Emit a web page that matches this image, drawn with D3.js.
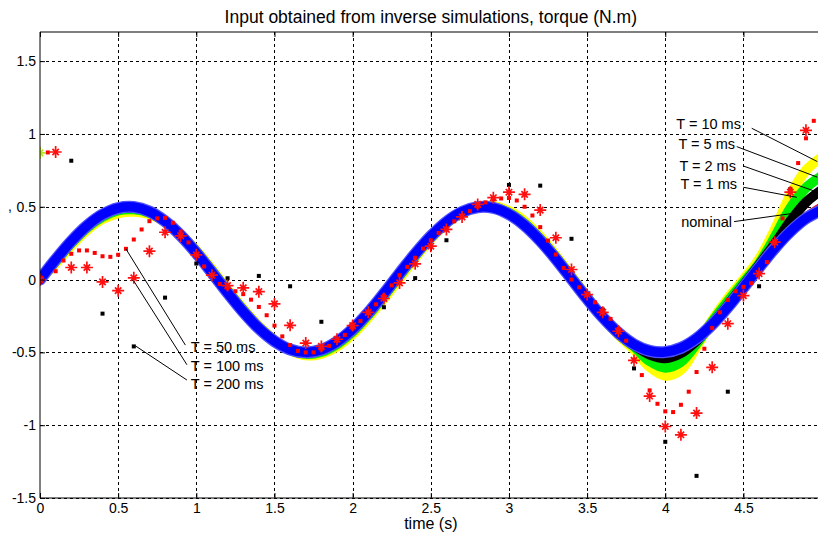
<!DOCTYPE html>
<html>
<head>
<meta charset="utf-8">
<script src="https://cdn.jsdelivr.net/npm/d3@7/dist/d3.min.js"></script>
<style>
  body { margin: 0; background: #fff; }
  svg { display: block; font-family: "Liberation Sans", Arial, Helvetica, sans-serif; }
</style>
</head>
<body>
<div id="container"></div>
<script>
// time grid of the continuous (small step) inverse simulations
const timeGrid = [0,0.1,0.2,0.3,0.4,0.5,0.6,0.7,0.8,0.9,1.0,1.1,1.2,1.3,1.4,1.5,1.6,1.7,1.8,1.9,2.0,
  2.1,2.2,2.3,2.4,2.5,2.6,2.7,2.8,2.9,3.0,3.1,3.2,3.3,3.4,3.5,3.6,3.7,3.8,3.9,4.0,
  4.1,4.2,4.3,4.4,4.5,4.6,4.7,4.8,4.9,5.0];

// torque for each sampling period
const nominal = [0,0.137,0.263,0.369,0.447,0.491,0.498,0.467,0.400,0.303,0.183,0.048,-0.090,-0.221,-0.335,-0.423,-0.480,-0.500,-0.482,-0.427,-0.340,
  -0.227,-0.096,0.042,0.176,0.297,0.396,0.465,0.497,0.492,0.449,0.372,0.267,0.142,0.005,-0.132,-0.259,-0.366,-0.445,-0.490,-0.498,
  -0.469,-0.405,-0.308,-0.189,-0.055,0.083,0.215,0.330,0.420,0.478];
const torque1ms = [0,0.135,0.261,0.367,0.445,0.489,0.496,0.466,0.400,0.304,0.184,0.050,-0.088,-0.219,-0.334,-0.422,-0.480,-0.501,-0.484,-0.430,-0.343,
  -0.230,-0.099,0.040,0.174,0.296,0.395,0.465,0.497,0.493,0.450,0.374,0.269,0.144,0.007,-0.131,-0.258,-0.367,-0.448,-0.500,-0.515,
  -0.485,-0.410,-0.305,-0.180,-0.045,0.092,0.228,0.350,0.450,0.520];
const torque2ms = [0,0.133,0.259,0.365,0.443,0.487,0.494,0.464,0.399,0.304,0.185,0.051,-0.087,-0.218,-0.333,-0.422,-0.481,-0.502,-0.486,-0.432,-0.346,
  -0.233,-0.101,0.038,0.172,0.294,0.394,0.464,0.497,0.494,0.452,0.376,0.271,0.146,0.008,-0.130,-0.258,-0.368,-0.452,-0.515,-0.540,
  -0.505,-0.420,-0.305,-0.175,-0.040,0.100,0.245,0.400,0.530,0.615];
const torque5ms = [0,0.125,0.250,0.355,0.430,0.475,0.482,0.458,0.398,0.306,0.190,0.058,-0.080,-0.210,-0.328,-0.420,-0.483,-0.510,-0.497,-0.444,-0.358,
  -0.243,-0.112,0.027,0.163,0.288,0.390,0.462,0.498,0.497,0.458,0.385,0.280,0.152,0.014,-0.126,-0.258,-0.372,-0.460,-0.560,-0.605,
  -0.565,-0.440,-0.290,-0.150,-0.020,0.110,0.290,0.490,0.630,0.710];
const torque10ms = [0,0.110,0.235,0.340,0.415,0.455,0.465,0.448,0.395,0.310,0.200,0.070,-0.070,-0.200,-0.320,-0.415,-0.485,-0.520,-0.510,-0.460,-0.375,
  -0.260,-0.130,0.010,0.150,0.280,0.385,0.460,0.500,0.505,0.470,0.400,0.295,0.165,0.025,-0.120,-0.260,-0.380,-0.480,-0.600,-0.660,
  -0.620,-0.460,-0.280,-0.130,0.000,0.140,0.340,0.580,0.750,0.840];

// sparse sampling periods, [time, torque]
const samples50ms = [[0,0],[0.05,0.873],[0.1,0.057],[0.15,0.131],[0.2,0.177],[0.25,0.2],[0.3,0.2],[0.35,0.183],[0.4,0.16],[0.45,0.156],
  [0.5,0.17],[0.55,0.211],[0.6,0.275],[0.65,0.344],[0.7,0.401],[0.75,0.42],[0.8,0.424],[0.85,0.39],[0.9,0.33],[0.95,0.255],
  [1.0,0.17],[1.05,0.09],[1.1,0.03],[1.15,-0.03],[1.2,-0.06],[1.25,-0.08],[1.3,-0.1],[1.35,-0.138],[1.4,-0.188],[1.45,-0.245],
  [1.5,-0.316],[1.55,-0.39],[1.6,-0.45],[1.65,-0.49],[1.7,-0.5],[1.75,-0.5],[1.8,-0.48],[1.85,-0.455],[1.9,-0.42],[1.95,-0.38],
  [2.0,-0.335],[2.05,-0.285],[2.1,-0.23],[2.15,-0.17],[2.2,-0.11],[2.25,-0.04],[2.3,0.03],[2.35,0.087],[2.4,0.15],[2.45,0.213],
  [2.5,0.27],[2.55,0.32],[2.6,0.35],[2.65,0.4],[2.7,0.44],[2.75,0.47],[2.8,0.5],[2.85,0.53],[2.9,0.55],[2.95,0.557],
  [3.0,0.56],[3.05,0.543],[3.1,0.5],[3.15,0.44],[3.2,0.36],[3.25,0.268],[3.3,0.172],[3.35,0.08],[3.4,0.0],[3.45,-0.053],
  [3.5,-0.1],[3.55,-0.156],[3.6,-0.21],[3.65,-0.27],[3.7,-0.34],[3.75,-0.42],[3.8,-0.55],[3.85,-0.656],[3.9,-0.761],[3.95,-0.853],
  [4.0,-0.905],[4.05,-0.91],[4.1,-0.86],[4.15,-0.77],[4.2,-0.635],[4.25,-0.475],[4.3,-0.332],[4.35,-0.225],[4.4,-0.14],[4.45,-0.08],
  [4.5,-0.05],[4.55,-0.025],[4.6,0.04],[4.65,0.12],[4.7,0.25],[4.75,0.42],[4.8,0.62],[4.85,0.8],[4.9,0.97],[4.95,1.09]];
const samples100ms = [[0,0],[0.1,0.876],[0.2,0.083],[0.3,0.083],[0.4,-0.016],[0.5,-0.076],[0.6,0.012],[0.7,0.195],[0.8,0.325],[0.9,0.3],
  [1.0,0.17],[1.1,0.03],[1.2,-0.041],[1.3,-0.057],[1.4,-0.083],[1.5,-0.167],[1.6,-0.314],[1.7,-0.436],[1.8,-0.459],[1.9,-0.41],
  [2.0,-0.316],[2.1,-0.225],[2.2,-0.13],[2.3,-0.023],[2.4,0.108],[2.5,0.229],[2.6,0.344],[2.7,0.43],[2.8,0.516],[2.9,0.562],
  [3.0,0.6],[3.1,0.585],[3.2,0.477],[3.3,0.287],[3.4,0.069],[3.5,-0.103],[3.6,-0.225],[3.7,-0.355],[3.8,-0.555],[3.9,-0.8],
  [4.0,-1.009],[4.1,-1.066],[4.2,-0.917],[4.3,-0.603],[4.4,-0.303],[4.5,-0.11],[4.6,0.041],[4.7,0.257],[4.8,0.6],[4.9,1.025]];
const samples200ms = [[0,0],[0.2,0.816],[0.4,-0.234],[0.6,-0.459],[0.8,-0.124],[1.0,0.11],[1.2,0.009],[1.4,0.025],[1.6,-0.046],[1.8,-0.29],
  [2.0,-0.33],[2.2,-0.19],[2.4,0.01],[2.6,0.27],[2.8,0.5],[3.0,0.65],[3.2,0.645],[3.4,0.28],[3.6,-0.206],[3.8,-0.61],
  [4.0,-1.114],[4.2,-1.348],[4.4,-0.77],[4.6,-0.046],[4.8,0.62]];
// first output of the fine-step runs
const firstOutput = [[0,0.87]];

const xTicks = [0,0.5,1,1.5,2,2.5,3,3.5,4,4.5,5];
const yTicks = [-1.5,-1,-0.5,0,0.5,1,1.5];

const leftLabels = ["T = 50 ms","T = 100 ms","T = 200 ms"];
const rightLabels = ["T = 10 ms","T = 5 ms","T = 2 ms","T = 1 ms","nominal"];

// layout of the annotations, in data units
const leftLayout = [
  {tx:0.965, ty:-0.465, from:[0.55,0.21],  to:[0.93,-0.45]},
  {tx:0.965, ty:-0.59,  from:[0.60,-0.01], to:[0.94,-0.585]},
  {tx:0.965, ty:-0.717, from:[0.61,-0.455],to:[0.94,-0.69]}
];
const rightLayout = [
  {tx:4.484, ty:1.069, from:[4.553,1.039], to:[4.973,0.81]},
  {tx:4.446, ty:0.929, from:[4.457,0.913], to:[4.973,0.703]},
  {tx:4.452, ty:0.782, from:[4.499,0.78],  to:[4.945,0.611]},
  {tx:4.459, ty:0.661, from:[4.499,0.634], to:[4.841,0.565]},
  {tx:4.427, ty:0.398, from:[4.44,0.398],  to:[4.819,0.455]}
];

const widthSVG = 818, heightSVG = 540;
const margin = {top: 32, left: 40, bottom: 42};

const x = d3.scaleLinear().domain([0, 5]).range([margin.left, 821.6]);
const y = d3.scaleLinear().domain([-1.5, 1.7]).range([heightSVG - margin.bottom, margin.top]);

const svg = d3.select('#container')
  .append('svg')
  .attr('width', widthSVG)
  .attr('height', heightSVG);

svg.append('defs').append('clipPath').attr('id', 'plotClip')
  .append('rect')
  .attr('x', x(0)).attr('y', y(1.7))
  .attr('width', x(5) - x(0)).attr('height', y(-1.5) - y(1.7));

// dotted grid
const grid = svg.append('g').attr('class', 'grid');
grid.selectAll('line.gx')
  .data(xTicks.filter(d => d > 0))
  .enter().append('line')
  .attr('x1', d => Math.round(x(d)) + 0.5).attr('x2', d => Math.round(x(d)) + 0.5)
  .attr('y1', y(1.7)).attr('y2', y(-1.5))
  .attr('stroke', '#000').attr('stroke-dasharray', '3,3');
grid.selectAll('line.gy')
  .data(yTicks)
  .enter().append('line')
  .attr('x1', x(0)).attr('x2', x(5))
  .attr('y1', d => Math.round(y(d)) + 0.5).attr('y2', d => Math.round(y(d)) + 0.5)
  .attr('stroke', '#000').attr('stroke-dasharray', '3,3');

const plot = svg.append('g').attr('clip-path', 'url(#plotClip)');

const line = d3.line()
  .x((d, i) => x(timeGrid[i]))
  .y(d => y(d))
  .curve(d3.curveCatmullRom.alpha(0.5));

// thick bands, like densely packed markers
const bands = [
  {data: torque10ms, color: '#ffff00', w: 10},
  {data: torque5ms,  color: '#00ee00', w: 10},
  {data: torque2ms,  color: '#000000', w: 10},
  {data: torque1ms,  color: '#ff0000', w: 4},
  {data: nominal,    color: '#5050ff', w: 12},
  {data: nominal,    color: '#0000ff', w: 9.5}
];
plot.selectAll('path.band')
  .data(bands)
  .enter().append('path')
  .attr('class', 'band')
  .attr('d', d => line(d.data))
  .attr('fill', 'none')
  .attr('stroke', d => d.color)
  .attr('stroke-width', d => d.w)
  .attr('stroke-linecap', 'round')
  .attr('stroke-linejoin', 'round');

// 200 ms samples: black dots
plot.selectAll('rect.s200')
  .data(samples200ms)
  .enter().append('rect')
  .attr('x', d => x(d[0]) - 2).attr('y', d => y(d[1]) - 2)
  .attr('width', 4).attr('height', 4)
  .attr('fill', '#000');

// 50 ms samples: red dots
plot.selectAll('rect.s50')
  .data(samples50ms)
  .enter().append('rect')
  .attr('x', d => x(d[0]) - 2).attr('y', d => y(d[1]) - 2)
  .attr('width', 4).attr('height', 4)
  .attr('fill', '#ff0000');

// 100 ms samples: red asterisks
const star = (cx, cy) => {
  const a = 6, b = 3.2;
  return `M${cx - a},${cy}L${cx + a},${cy}M${cx},${cy - a}L${cx},${cy + a}` +
    `M${cx - b},${cy - b}L${cx + b},${cy + b}M${cx - b},${cy + b}L${cx + b},${cy - b}`;
};
plot.selectAll('path.s100')
  .data(samples100ms)
  .enter().append('path')
  .attr('d', d => star(x(d[0]), y(d[1])))
  .attr('stroke', '#ff1010').attr('stroke-width', 1.7).attr('fill', 'none');

plot.selectAll('path.first')
  .data(firstOutput)
  .enter().append('path')
  .attr('d', d => star(x(d[0]), y(d[1])))
  .attr('stroke', '#b4e61e').attr('stroke-width', 1.7).attr('fill', 'none');

plot.append('circle')
  .attr('cx', x(0)).attr('cy', y(0)).attr('r', 4)
  .attr('fill', 'none').attr('stroke', '#ff0000').attr('stroke-width', 1);

// axes box, ticks inward
const fmt = d => String(d);
svg.append('g')
  .attr('transform', `translate(0,${y(-1.5)})`)
  .call(d3.axisBottom(x).tickValues(xTicks.slice(0, -1)).tickSize(-5).tickPadding(5).tickFormat(fmt))
  .call(g => g.select('.domain').attr('d', `M${x(0)},0H${x(5)}`));
svg.append('g')
  .attr('transform', `translate(0,${y(1.7)})`)
  .call(d3.axisTop(x).tickValues(xTicks.slice(0, -1)).tickSize(-5).tickFormat(''))
  .call(g => g.select('.domain').attr('d', `M${x(0)},0H${x(5)}`));
svg.append('g')
  .attr('transform', `translate(${x(0)},0)`)
  .call(d3.axisLeft(y).tickValues(yTicks).tickSize(-5).tickPadding(4).tickFormat(fmt))
  .call(g => g.select('.domain').attr('d', `M0,${y(1.7)}V${y(-1.5)}`));

svg.selectAll('.tick text').attr('font-size', 14).attr('fill', '#000').attr('font-family', null);
svg.selectAll('.domain').attr('stroke', '#000');
svg.selectAll('.tick line').attr('stroke', '#000');

// annotations
const notes = svg.append('g').attr('font-size', 14.5);
notes.selectAll('line.left')
  .data(leftLayout)
  .enter().append('line')
  .attr('x1', d => x(d.from[0])).attr('y1', d => y(d.from[1]))
  .attr('x2', d => x(d.to[0])).attr('y2', d => y(d.to[1]))
  .attr('stroke', '#000').attr('stroke-width', 1);
notes.selectAll('text.left')
  .data(leftLabels)
  .enter().append('text')
  .attr('x', (d, i) => x(leftLayout[i].tx))
  .attr('y', (d, i) => y(leftLayout[i].ty))
  .attr('dy', '0.36em')
  .text(d => d);
notes.selectAll('line.right')
  .data(rightLayout)
  .enter().append('line')
  .attr('x1', d => x(d.from[0])).attr('y1', d => y(d.from[1]))
  .attr('x2', d => x(d.to[0])).attr('y2', d => y(d.to[1]))
  .attr('stroke', '#000').attr('stroke-width', 1);
notes.selectAll('text.right')
  .data(rightLabels)
  .enter().append('text')
  .attr('x', (d, i) => x(rightLayout[i].tx))
  .attr('y', (d, i) => y(rightLayout[i].ty))
  .attr('dy', '0.36em')
  .attr('text-anchor', 'end')
  .text(d => d);

// titles
svg.append('text')
  .attr('x', (x(0) + x(5)) / 2).attr('y', 23)
  .attr('text-anchor', 'middle').attr('font-size', 17.5)
  .text('Input obtained from inverse simulations, torque (N.m)');
svg.append('text')
  .attr('x', (x(0) + x(5)) / 2).attr('y', 529)
  .attr('text-anchor', 'middle').attr('font-size', 16)
  .text('time (s)');
svg.append('text')
  .attr('x', 8).attr('y', 211)
  .attr('font-size', 14)
  .text(',');
</script>
</body>
</html>
